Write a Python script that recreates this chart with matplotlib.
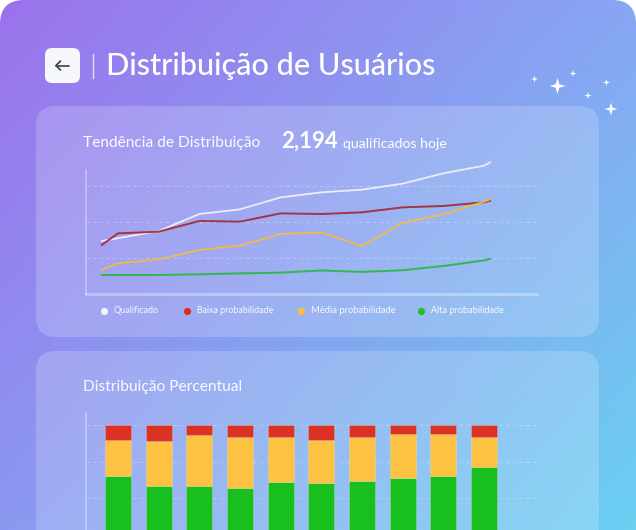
import numpy as np
import matplotlib
matplotlib.use("Agg")
import matplotlib.pyplot as plt
from matplotlib.patches import FancyBboxPatch, Polygon
from matplotlib.path import Path

plt.rcParams['font.family'] = ['Lato', 'DejaVu Sans']

# ---------------- data ----------------
titulo = "Distribuição de Usuários"
titulo_linhas = "Tendência de Distribuição"
destaque_valor = "2,194"
destaque_texto = "qualificados hoje"
titulo_barras = "Distribuição Percentual"

dias = [-0.4, 0, 1, 2, 3, 4, 5, 6, 7, 8, 9, 9.15]
qualificado = [883, 930, 1050, 1333, 1411, 1611, 1694, 1739, 1839, 2011, 2139, 2194]
baixa = [817, 1011, 1039, 1217, 1206, 1344, 1333, 1361, 1444, 1467, 1528, 1556]
media = [400, 511, 578, 733, 806, 1000, 1025, 800, 1185, 1328, 1539, 1578]
alta = [317, 317, 317, 328, 344, 356, 392, 368, 396, 467, 560, 589]

series_nomes = ["Qualificado", "Baixa probabilidade", "Média probabilidade", "Alta probabilidade"]

barras_idx = list(range(10))
pct_alta = [65, 58, 58, 57, 61, 60, 61.5, 64, 65, 71]
pct_media = [25, 31, 35, 34.5, 31, 30, 30, 29.5, 28.5, 21]
pct_baixa = [10, 11, 7, 8.5, 8, 10, 8.5, 6.5, 6.5, 8]

# ---------------- figure ----------------
W, H = 636, 530
fig = plt.figure(figsize=(W / 100, H / 100), dpi=100, facecolor='white')

bg = fig.add_axes([0, 0, 1, 1], zorder=0)
bg.set_xlim(0, W)
bg.set_ylim(H, 0)
bg.axis('off')

# gradient background
tl = np.array([155, 114, 236]) / 255
tr = np.array([136, 166, 243]) / 255
bl = np.array([140, 152, 241]) / 255
br = np.array([106, 208, 241]) / 255
u = np.linspace(0, 1, W)[None, :, None]
v = np.linspace(0, 1, H)[:, None, None]
img = (1 - u) * (1 - v) * tl + u * (1 - v) * tr + (1 - u) * v * bl + u * v * br
im = bg.imshow(img, extent=(0, W, H, 0), aspect='auto', zorder=0)
clip = FancyBboxPatch((0, 0), W, H + 40, boxstyle="round,pad=0,rounding_size=24",
                      transform=bg.transData, facecolor='none', edgecolor='none')
bg.add_patch(clip)
im.set_clip_path(clip)

# cards
for (x0, y0, x1, y1) in [(36, 106, 599, 337), (36, 351, 599, 600)]:
    bg.add_patch(FancyBboxPatch((x0, y0), x1 - x0, y1 - y0,
                                boxstyle="round,pad=0,rounding_size=20",
                                facecolor='white', alpha=0.19, edgecolor='none', zorder=1))

# back button
bg.add_patch(FancyBboxPatch((45, 48), 35, 35, boxstyle="round,pad=0,rounding_size=7",
                            facecolor='#f6f8fb', edgecolor='none', zorder=2))
bg.plot([56, 69], [65.5, 65.5], color='#3a3f4a', lw=1.2, zorder=3, solid_capstyle='round')
bg.plot([60.5, 56, 60.5], [61, 65.5, 70], color='#3a3f4a', lw=1.2, zorder=3,
        solid_capstyle='round', solid_joinstyle='round')
bg.plot([92.5, 92.5], [54, 78], color='white', alpha=0.75, lw=1.0, zorder=2)

renderer = fig.canvas.get_renderer()


def fit_text(x, y, s, width_px, **kw):
    t = bg.text(x, y, s, fontsize=10, **kw)
    w = t.get_window_extent(renderer).width
    t.set_fontsize(10 * width_px / w)
    return t


fit_text(106, 66, titulo, 331, color='white', va='center', ha='left', weight='medium', zorder=3)
fit_text(83, 143, titulo_linhas, 178, color='white', va='center', ha='left', alpha=0.95, zorder=3)
fit_text(281, 141, destaque_valor, 57, color='white', va='center', ha='left', weight='bold', zorder=3)
fit_text(343, 144, destaque_texto, 104, color='white', va='center', ha='left', zorder=3)
fit_text(83, 387, titulo_barras, 159, color='white', va='center', ha='left', alpha=0.95, zorder=3)

# sparkles
def sparkle(cx, cy, r):
    k = 0.22 * r
    pts = [(cx, cy - r), (cx + k, cy - k), (cx + r, cy), (cx + k, cy + k),
           (cx, cy + r), (cx - k, cy + k), (cx - r, cy), (cx - k, cy - k)]
    bg.add_patch(Polygon(pts, closed=True, facecolor='white', edgecolor='none', zorder=3))

for (cx, cy, r) in [(534.5, 79, 3.5), (557.5, 86, 8), (573, 73.5, 3.5),
                    (606.5, 82.5, 3.5), (588, 95.5, 3.5), (611, 109, 6.5)]:
    sparkle(cx, cy, r)

# legend
leg_cores = ['#f2f2f7', '#e0281f', '#fcc03d', '#1fc21f']
leg_x = [104, 186.7, 301, 420.7]
leg_w = [45, 77, 85, 73]
for nome, cor, lx, lw_ in zip(series_nomes, leg_cores, leg_x, leg_w):
    bg.plot([lx], [310.5], marker='o', markersize=5.2, color=cor, markeredgewidth=0, zorder=3)
    fit_text(lx + 10, 310.8, nome, lw_, color='white', alpha=0.9, va='center', ha='left', zorder=3)

# ---------------- line chart ----------------
def px_axes(left, right, top, bottom):
    return [left / W, (H - bottom) / H, (right - left) / W, (bottom - top) / H]

ax1 = fig.add_axes(px_axes(86, 537, 170, 294), zorder=2)
ax1.patch.set_alpha(0)
x0 = -32 / 40.67
x1 = 419 / 40.67
ax1.set_xlim(x0, x1)
ax1.set_ylim(0, 124 / 36 * 600)
for yv in [600, 1200, 1800]:
    ax1.axhline(yv, color='white', alpha=0.28, lw=0.8, ls=(0, (3, 3)))
ax1.plot(dias, qualificado, color='#f4f4fa', lw=1.3, alpha=0.9, clip_on=False)
ax1.plot(dias, baixa, color='#a3282f', lw=1.4, alpha=0.9, clip_on=False)
ax1.plot(dias, media, color='#f7ba3e', lw=1.3, alpha=0.95, clip_on=False)
ax1.plot(dias, alta, color='#28b83a', lw=1.4, alpha=0.9, clip_on=False)
for s in ['top', 'right']:
    ax1.spines[s].set_visible(False)
ax1.spines['left'].set_color((1, 1, 1, 0.3))
ax1.spines['left'].set_linewidth(1.5)
ax1.spines['bottom'].set_color((1, 1, 1, 0.35))
ax1.spines['bottom'].set_linewidth(2)
ax1.set_xticks([])
ax1.set_yticks([])

# ---------------- bar chart ----------------
ax2 = fig.add_axes(px_axes(86, 537, 413, 571), zorder=2)
ax2.patch.set_alpha(0)
ax2.set_xlim(x0, x1)
ax2.set_ylim(0, 158 / 1.46)
for yv in [25, 50, 75, 100]:
    ax2.axhline(yv, color='white', alpha=0.28, lw=0.8, ls=(0, (3, 3)), zorder=0)
bw = 26 / 40.67
alta_a = np.array(pct_alta)
media_a = np.array(pct_media)
baixa_a = np.array(pct_baixa)
ec = (1, 1, 1, 0.25)
ax2.bar(barras_idx, alta_a, width=bw, color='#19c01d', edgecolor=ec, linewidth=0.5, zorder=2)
ax2.bar(barras_idx, media_a, bottom=alta_a, width=bw, color='#fdc241', edgecolor=ec, linewidth=0.5, zorder=2)
ax2.bar(barras_idx, baixa_a, bottom=alta_a + media_a, width=bw, color='#dc3223', edgecolor=ec, linewidth=0.5, zorder=2)
for s in ['top', 'right', 'bottom']:
    ax2.spines[s].set_visible(False)
ax2.spines['left'].set_color((1, 1, 1, 0.3))
ax2.spines['left'].set_linewidth(1.5)
ax2.set_xticks([])
ax2.set_yticks([])

fig.savefig('out.png', dpi=100, facecolor='white')
